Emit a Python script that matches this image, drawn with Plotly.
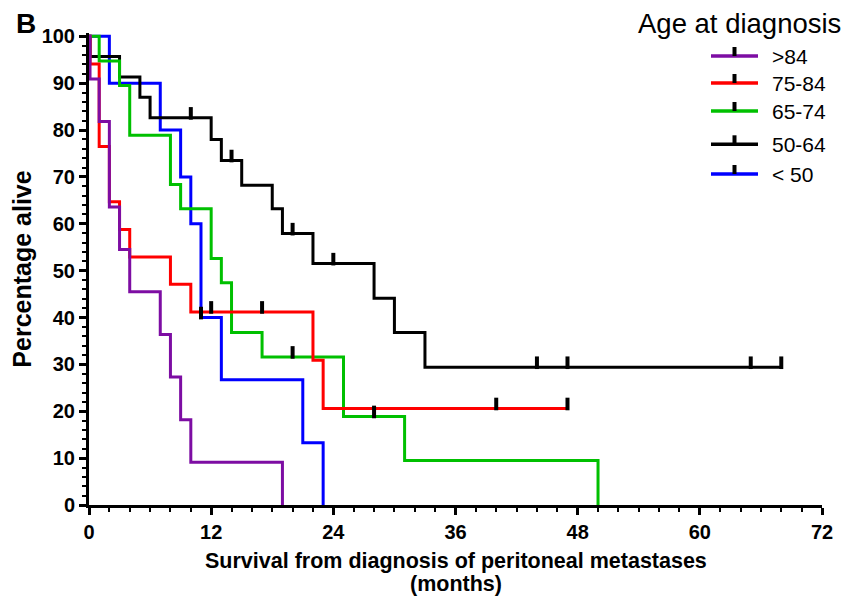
import plotly.graph_objects as go

# ---- data ----
groups = [">84", "75-84", "65-74", "50-64", "< 50"]
colors = ["#7D0DA3", "#FF0000", "#00C000", "#000000", "#0000FF"]

t_gt84 = [0, 0.1, 1, 2, 3, 4, 7, 8, 9, 10, 19]
s_gt84 = [100, 90.9, 81.8, 63.6, 54.5, 45.5, 36.4, 27.3, 18.2, 9.1, 0]
c_t_gt84 = []
c_s_gt84 = []

t_7584 = [0, 0.1, 1, 2, 3, 4, 8, 10, 22, 23, 47]
s_7584 = [100, 94.1, 76.5, 64.7, 58.8, 52.9, 47.1, 41.2, 30.9, 20.6, 20.6]
c_t_7584 = [12, 17, 40, 47]
c_s_7584 = [41.2, 41.2, 20.6, 20.6]

t_6574 = [0, 1, 3, 4, 8, 9, 12, 13, 14, 17, 25, 31, 50]
s_6574 = [100, 94.7, 89.5, 78.9, 68.4, 63.2, 52.6, 47.4, 36.8, 31.6, 18.9, 9.5, 0]
c_t_6574 = [20, 28]
c_s_6574 = [31.6, 18.9]

t_5064 = [0, 0.1, 3, 5, 6, 12, 13, 15, 18, 19, 22, 28, 30, 33, 68]
s_5064 = [100, 95.7, 91.3, 87.0, 82.6, 78.0, 73.5, 68.2, 63.2, 57.9, 51.5, 44.1, 36.8, 29.4, 29.4]
c_t_5064 = [10, 14, 20, 24, 44, 47, 65, 68]
c_s_5064 = [82.6, 73.5, 57.9, 51.5, 29.4, 29.4, 29.4, 29.4]

t_lt50 = [0, 2, 7, 9, 10, 11, 13, 21, 23]
s_lt50 = [100, 90.0, 80.0, 70.0, 60.0, 40.0, 26.7, 13.3, 0]
c_t_lt50 = [11]
c_s_lt50 = [40.0]

x_ticks = [0, 12, 24, 36, 48, 60, 72]
y_ticks = [0, 10, 20, 30, 40, 50, 60, 70, 80, 90, 100]

x_title_lines = ["Survival from diagnosis of peritoneal metastases", "(months)"]
y_title = "Percentage alive"
legend_title = "Age at diagnosis"
panel_label = "B"

series = {
    ">84": (t_gt84, s_gt84, c_t_gt84, c_s_gt84),
    "75-84": (t_7584, s_7584, c_t_7584, c_s_7584),
    "65-74": (t_6574, s_6574, c_t_6574, c_s_6574),
    "50-64": (t_5064, s_5064, c_t_5064, c_s_5064),
    "< 50": (t_lt50, s_lt50, c_t_lt50, c_s_lt50),
}

FONT = "Liberation Sans, Arial, sans-serif"
fig = go.Figure()

draw_order = ["< 50", "50-64", "65-74", "75-84", ">84"]
for g in draw_order:
    t, s, _, _ = series[g]
    col = colors[groups.index(g)]
    fig.add_trace(go.Scatter(x=t, y=s, mode="lines", name=g,
                             line=dict(color=col, width=3, shape="hv"),
                             showlegend=False))

MARK_OFF = 0.95  # censor tick drawn upward from the curve
for g in draw_order:
    _, _, ct, cs = series[g]
    if not ct:
        continue
    fig.add_trace(go.Scatter(x=ct, y=[v + MARK_OFF for v in cs], mode="markers",
                             name=g + " censored", showlegend=False, cliponaxis=False,
                             marker=dict(symbol="line-ns", size=9, color="black",
                                         line=dict(color="black", width=4))))

W, H = 849, 601
L, R, T, B = 89, 27, 33, 96
pw, ph = W - L - R, H - T - B

def px(X):
    return (X - L) / pw

def py(Y):
    return (H - B - Y) / ph

# manual legend
rows_y = [56, 83, 111, 144.3, 174]
shapes = []
annos = []
for g, yy, col in zip(groups, rows_y, colors):
    shapes.append(dict(type="line", xref="paper", yref="paper",
                       x0=px(711), x1=px(758), y0=py(yy), y1=py(yy),
                       line=dict(color=col, width=3.5)))
    shapes.append(dict(type="line", xref="paper", yref="paper",
                       x0=px(734.5), x1=px(734.5), y0=py(yy), y1=py(yy - 9),
                       line=dict(color="black", width=4)))
    annos.append(dict(text=g, xref="paper", yref="paper", x=px(770), y=py(yy + 0.5),
                      xanchor="left", yanchor="middle", showarrow=False,
                      font=dict(family=FONT, size=21, color="black")))

annos.append(dict(text=legend_title, xref="paper", yref="paper", x=px(636), y=py(23),
                  xanchor="left", yanchor="middle", showarrow=False,
                  font=dict(family=FONT, size=27.5, color="black")))
annos.append(dict(text=panel_label, xref="paper", yref="paper", x=px(14), y=py(24),
                  xanchor="left", yanchor="middle", showarrow=False,
                  font=dict(family=FONT, size=28, color="black", weight="bold")))
# x-axis title (two lines, tight spacing as in the reference)
for line_text, yy in zip(x_title_lines, [561, 584]):
    annos.append(dict(text=line_text, xref="paper", yref="paper", x=px(456), y=py(yy),
                      xanchor="center", yanchor="middle", showarrow=False,
                      font=dict(family=FONT, size=21.5, color="black", weight="bold")))

fig.update_layout(
    width=W, height=H,
    margin=dict(l=L, r=R, t=T, b=B, autoexpand=False),
    paper_bgcolor="white", plot_bgcolor="white",
    font=dict(family=FONT, color="black"),
    shapes=shapes, annotations=annos,
)

fig.update_xaxes(
    range=[0, 72], tickvals=x_ticks, ticktext=[str(v) for v in x_ticks],
    showgrid=False, zeroline=False, automargin=False,
    showline=True, linecolor="black", linewidth=3,
    ticks="outside", ticklen=7, tickwidth=3, tickcolor="black",
    tickfont=dict(family=FONT, size=20, color="black", weight="bold"),
    minor=dict(dtick=2, tick0=0, ticks="outside", ticklen=4, tickwidth=2, tickcolor="black"),
)
fig.update_yaxes(
    range=[0, 100.7], tickvals=y_ticks, ticktext=[str(v) for v in y_ticks],
    showgrid=False, zeroline=False, automargin=False,
    showline=True, linecolor="black", linewidth=3,
    ticks="outside", ticklen=7, tickwidth=3, tickcolor="black",
    tickfont=dict(family=FONT, size=20, color="black", weight="bold"),
    minor=dict(dtick=2, tick0=0, ticks="outside", ticklen=4, tickwidth=2, tickcolor="black"),
    title=dict(text=y_title,
               font=dict(family=FONT, size=25, color="black", weight="bold"), standoff=3),
)

fig.write_html("out.html")
